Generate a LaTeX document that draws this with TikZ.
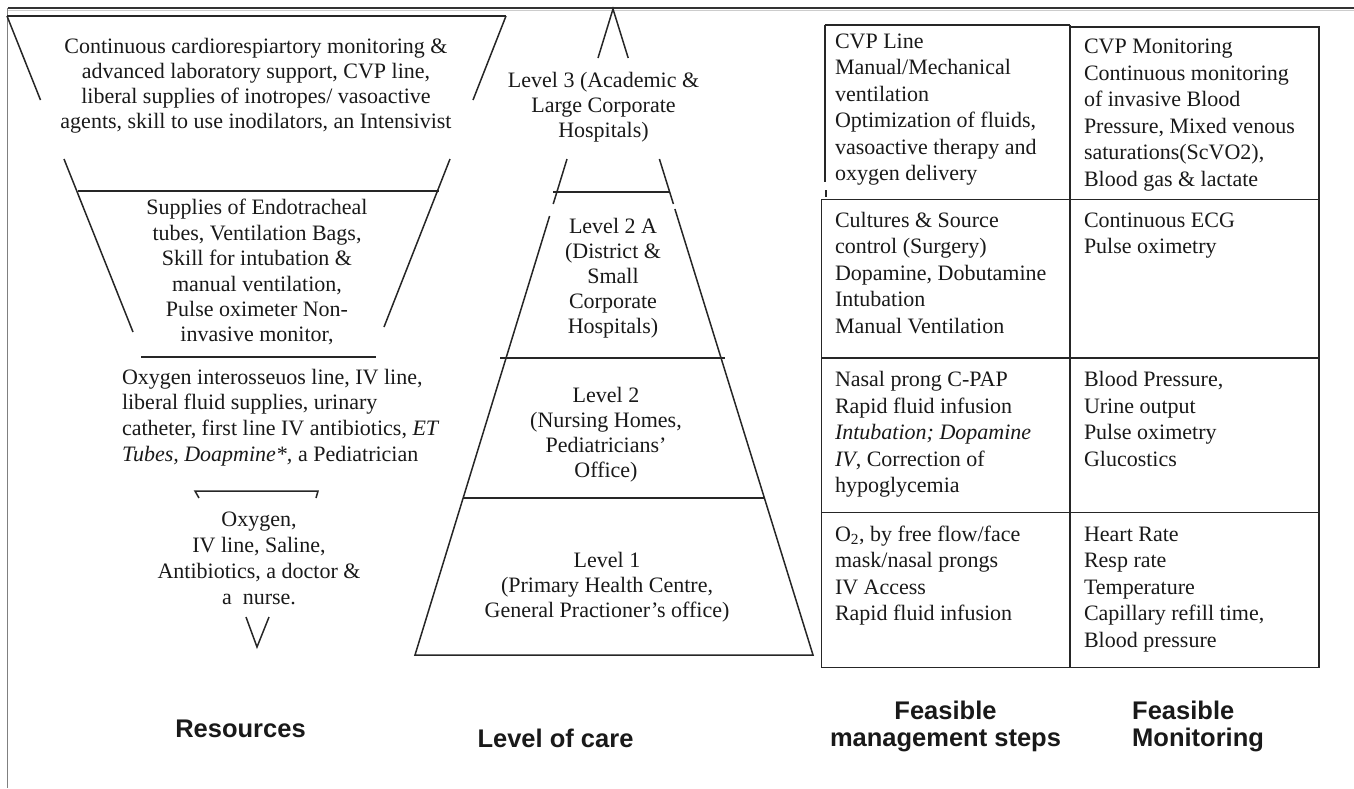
\documentclass[tikz,border=0pt]{standalone}
\usepackage{fontspec}
\setmainfont{Liberation Serif}
\newfontfamily\labfont{Liberation Sans}
\begin{document}
\begin{tikzpicture}[x=1pt,y=-1pt,
  ln/.style={line width=1.5pt, draw=black!85},
  tb/.style={line width=1.8pt, draw=black!85},
  txt/.style={inner sep=0pt, outer sep=0pt, text=black!90},
  ctr/.style={txt, anchor=north, align=center},
  lft/.style={txt, anchor=north west, align=left},
  lab/.style={inner sep=0pt, text=black!90, font=\labfont\bfseries\fontsize{25.5}{27}\selectfont}
]
\useasboundingbox (0,0) rectangle (1354,788);
% frame
\draw[line width=1.3pt, draw=black!80] (8,8) -- (1354,8);
\draw[line width=0.6pt, draw=black!20] (8,10.5) -- (1354,10.5);
\draw[line width=1.6pt, draw=black!50] (7.5,8) -- (7.5,788);

% resources (inverted trapezoid)
\draw[ln] (7,16) -- (506,16);
\draw[ln] (7,16) -- (40.5,100);
\draw[ln] (64,159) -- (133,332);
\draw[ln] (506,16) -- (473,100);
\draw[ln] (450,159) -- (384,327);
\draw[ln] (78,191) -- (439,191);
\draw[ln] (141,357) -- (376,357);
\draw[ln] (199,498) -- (195,491) -- (318,491) -- (316,498);
\draw[ln] (246,617) -- (257,647) -- (269,617);

\node[ctr, font=\fontsize{22}{25}\selectfont] (r1) at (256,36.2)
 {\strut Continuous cardiorespiartory monitoring \&\\advanced laboratory support, CVP line,\\liberal supplies of inotropes/ vasoactive\\agents, skill to use inodilators, an Intensivist};
\node[ctr, font=\fontsize{22}{25.4}\selectfont] (r2) at (257,197.2)
 {\strut Supplies of Endotracheal\\tubes, Ventilation Bags,\\Skill for intubation \&\\manual ventilation,\\Pulse oximeter Non-\\invasive monitor,};
\node[lft, font=\fontsize{22}{25.7}\selectfont] (r3) at (122,366)
 {\strut Oxygen interosseuos line, IV line,\\liberal fluid supplies, urinary\\catheter, first line IV antibiotics, \textit{ET}\\\textit{Tubes, Doapmine*,} a Pediatrician};
\node[ctr, font=\fontsize{22}{26}\selectfont] (r4) at (259,507.8)
 {\strut Oxygen,\\IV line, Saline,\\Antibiotics, a doctor \&\\a\ \ nurse.};

% level of care (pyramid)
\draw[ln] (598,58) -- (613,9) -- (628.2,58);
\draw[ln] (567,159) -- (553.2,204);
\draw[ln] (659.4,159) -- (673.4,204);
\draw[ln] (549.6,216) -- (415,655) -- (813,655) -- (674.9,209);
\draw[ln] (553,192) -- (670,192);
\draw[ln] (500,358) -- (725,358);
\draw[ln] (463,498) -- (765,498);

\node[ctr, font=\fontsize{22}{25}\selectfont] (l3) at (603.5,69.5)
 {\strut Level 3 (Academic \&\\Large Corporate\\Hospitals)};
\node[ctr, font=\fontsize{22}{25.2}\selectfont] (l2a) at (613,215.4)
 {\strut Level 2 A\\(District \&\\Small\\Corporate\\Hospitals)};
\node[ctr, font=\fontsize{22}{25}\selectfont] (l2) at (606,384.5)
 {\strut Level 2\\(Nursing Homes,\\Pediatricians'\\Office)};
\node[ctr, font=\fontsize{22}{25}\selectfont] (l1) at (607,549.5)
 {\strut Level 1\\(Primary Health Centre,\\General Practioner's office)};

% table
\draw[tb] (824.6,25.3) -- (1070,25.3);
\draw[tb] (1070,27) -- (1318.7,27) -- (1318.7,667.5) -- (821.5,667.5) -- (821.5,199.5) -- (1318.7,199.5);
\draw[tb] (824.6,25.3) -- (824.6,182);
\draw[tb] (826,190) -- (826,197);
\draw[tb] (1070,25.3) -- (1070,667.5);
\draw[tb] (821.5,357.6) -- (1318.7,357.6);
\draw[tb] (821.5,512.4) -- (1318.7,512.4);

\tikzset{cell/.style={lft, font=\fontsize{22}{26.5}\selectfont}}
\node[cell] (m1) at (835,29.5)
 {\strut CVP Line\\Manual/Mechanical\\ventilation\\Optimization of fluids,\\vasoactive therapy and\\oxygen delivery};
\node[cell] (n1) at (1084,35.4)
 {\strut CVP Monitoring\\Continuous monitoring\\of invasive Blood\\Pressure, Mixed venous\\saturations(ScVO2),\\Blood gas \& lactate};
\node[cell] (m2) at (835,208.8)
 {\strut Cultures \& Source\\control (Surgery)\\Dopamine, Dobutamine\\Intubation\\Manual Ventilation};
\node[cell] (n2) at (1084,208.8)
 {\strut Continuous ECG\\Pulse oximetry};
\node[cell] (m3) at (835,368)
 {\strut Nasal prong C-PAP\\Rapid fluid infusion\\\textit{Intubation; Dopamine}\\\textit{IV}, Correction of\\hypoglycemia};
\node[cell] (n3) at (1084,368)
 {\strut Blood Pressure,\\Urine output\\Pulse oximetry\\Glucostics};
\node[cell] (m4) at (835,522.5)
 {\strut O\textsubscript{2}, by free flow/face\\mask/nasal prongs\\IV Access\\Rapid fluid infusion};
\node[cell] (n4) at (1084,522.5)
 {\strut Heart Rate\\Resp rate\\Temperature\\Capillary refill time,\\Blood pressure};

% column labels
\node[lab, anchor=base] (tres) at (240.5,737) {Resources};
\node[lab, anchor=base] (tloc) at (555.5,747) {Level of care};
\node[lab, anchor=north, align=center] (tman) at (945.5,700.1) {\strut Feasible\\management steps};
\node[lab, anchor=north west, align=left] (tmon) at (1132,700.1) {\strut Feasible\\Monitoring};
\end{tikzpicture}
\end{document}
